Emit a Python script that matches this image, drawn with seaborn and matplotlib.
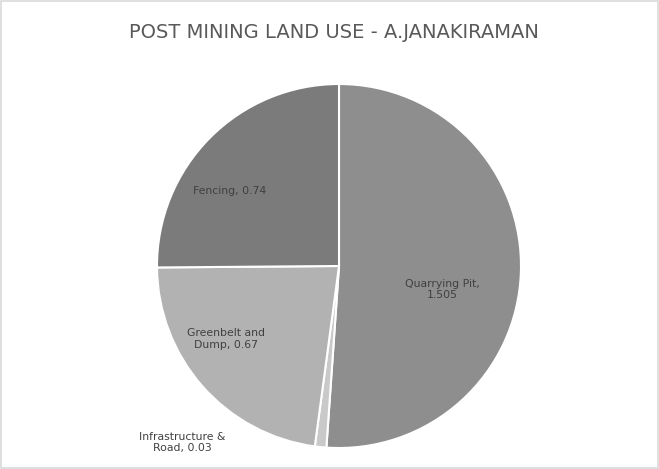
import matplotlib
matplotlib.use("Agg")
import matplotlib.pyplot as plt
import seaborn as sns
import numpy as np

sns.set_theme(style="white")
plt.rcParams['font.family'] = ['DejaVu Sans']

# --- data ---
categories = ["Quarrying Pit", "Infrastructure &\nRoad", "Greenbelt and\nDump", "Fencing"]
values = [1.505, 0.03, 0.67, 0.74]
value_labels = ["1.505", "0.03", "0.67", "0.74"]
colors = ["#8e8e8e", "#c9c9c9", "#b2b2b2", "#7b7b7b"]

labels = []
for cat, v in zip(categories, value_labels):
    if cat == "Quarrying Pit":
        labels.append(cat + ",\n" + v)
    else:
        labels.append(cat + ", " + v)

# label positions (fraction of radius)
label_pos = [(0.57, -0.13), (-0.86, -0.97), (-0.62, -0.40), (-0.60, 0.41)]

fig = plt.figure(figsize=(6.59, 4.69), dpi=100)
fig.patch.set_facecolor("white")

# thin outer border like the source image
fig.add_artist(plt.Rectangle((0.002, 0.002), 0.996, 0.996, transform=fig.transFigure,
                             fill=False, edgecolor="#d9d9d9", linewidth=1.2))

cx, cy, r = 339, 469 - 266, 182
ax = fig.add_axes([(cx - r) / 659, (cy - r) / 469, 2 * r / 659, 2 * r / 469])

wedges, texts = ax.pie(values, colors=colors, startangle=90, counterclock=False,
                       labels=labels, labeldistance=0.6,
                       wedgeprops=dict(edgecolor="white", linewidth=1.5),
                       textprops=dict(fontsize=7.8, color="#404040", ha="center", va="center"))
for t, (x, y) in zip(texts, label_pos):
    t.set_position((x, y))
    t.set_ha("center")
    t.set_va("center")
ax.set_aspect("equal")
ax.set_xlim(-1, 1)
ax.set_ylim(-1, 1)
ax.axis("off")

fig.text(334 / 659, 1 - 33 / 469, "POST MINING LAND USE - A.JANAKIRAMAN", ha="center", va="center",
         fontsize=14, color="#595959")

fig.savefig("out.png", dpi=100)
